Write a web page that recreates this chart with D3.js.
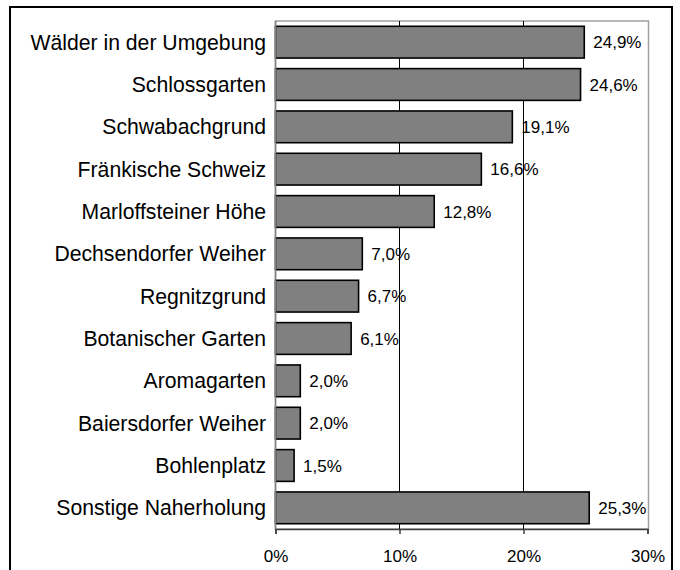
<!DOCTYPE html>
<html>
<head>
<meta charset="utf-8">
<script src="https://cdn.jsdelivr.net/npm/d3@7/dist/d3.min.js"></script>
<style>
  html, body { margin: 0; padding: 0; background: #fff; }
  svg { display: block; }
  text { font-family: "Liberation Sans", Arial, sans-serif; fill: #000; }
</style>
</head>
<body>
<svg id="chart" width="680" height="570"></svg>
<script>
const categories = [
  "Wälder in der Umgebung",
  "Schlossgarten",
  "Schwabachgrund",
  "Fränkische Schweiz",
  "Marloffsteiner Höhe",
  "Dechsendorfer Weiher",
  "Regnitzgrund",
  "Botanischer Garten",
  "Aromagarten",
  "Baiersdorfer Weiher",
  "Bohlenplatz",
  "Sonstige Naherholung"
];
const values = [24.9, 24.6, 19.1, 16.6, 12.8, 7.0, 6.7, 6.1, 2.0, 2.0, 1.5, 25.3];
const valueLabels = ["24,9%", "24,6%", "19,1%", "16,6%", "12,8%", "7,0%", "6,7%", "6,1%", "2,0%", "2,0%", "1,5%", "25,3%"];
const xTicks = [0, 10, 20, 30];
const xTickLabels = ["0%", "10%", "20%", "30%"];

const svg = d3.select("#chart");
const plot = { left: 275.5, right: 647.5, top: 21, bottom: 529 };

const x = d3.scaleLinear().domain([0, 30]).range([plot.left, plot.right]);
const y = d3.scaleBand().domain(categories).range([plot.top, plot.bottom])
  .paddingInner(0.25).paddingOuter(0.125);

// outer frame
svg.append("rect")
  .attr("x", 10).attr("y", 7).attr("width", 662).attr("height", 600)
  .attr("fill", "none").attr("stroke", "#000").attr("stroke-width", 2);

// plot border (top/right grey)
svg.append("rect")
  .attr("x", plot.left).attr("y", plot.top)
  .attr("width", x(30) - plot.left + 1).attr("height", plot.bottom - plot.top)
  .attr("fill", "none").attr("stroke", "#a0a0a0").attr("stroke-width", 1.5);

// gridlines
svg.append("g").selectAll("line").data(xTicks.filter(d => d > 0 && d < 30)).join("line")
  .attr("x1", d => x(d)).attr("x2", d => x(d))
  .attr("y1", plot.top).attr("y2", plot.bottom)
  .attr("stroke", "#000").attr("stroke-width", 1);

// bars
svg.append("g").selectAll("rect").data(values).join("rect")
  .attr("x", x(0))
  .attr("y", (d, i) => y(categories[i]))
  .attr("width", d => x(d) - x(0))
  .attr("height", y.bandwidth())
  .attr("fill", "#808080")
  .attr("stroke", "#000")
  .attr("stroke-width", 1.6);

// value labels
svg.append("g").selectAll("text").data(values).join("text")
  .attr("x", d => x(d) + 9)
  .attr("y", (d, i) => y(categories[i]) + y.bandwidth() / 2)
  .attr("dy", "0.36em")
  .attr("font-size", "17px")
  .text((d, i) => valueLabels[i]);

// category labels
svg.append("g").selectAll("text").data(categories).join("text")
  .attr("x", 266)
  .attr("y", d => y(d) + y.bandwidth() / 2)
  .attr("dy", "0.36em")
  .attr("text-anchor", "end")
  .attr("font-size", "21.2px")
  .text(d => d);

// left axis line
svg.append("line")
  .attr("x1", plot.left).attr("x2", plot.left)
  .attr("y1", plot.top).attr("y2", plot.bottom)
  .attr("stroke", "#808080").attr("stroke-width", 1.5);

// bottom axis
const xAxis = d3.axisBottom(x).tickValues(xTicks)
  .tickFormat((d, i) => xTickLabels[i]).tickSize(5).tickPadding(16);
const gx = svg.append("g").attr("transform", `translate(0,${plot.bottom})`).call(xAxis);
gx.select(".domain").attr("stroke", "#404040").attr("stroke-width", 1.5);
gx.selectAll(".tick line").attr("stroke", "#404040").attr("stroke-width", 1.5);
gx.selectAll(".tick text")
  .attr("font-size", "17px")
  .attr("font-family", "Liberation Sans, Arial, sans-serif")
  .attr("fill", "#000");
</script>
</body>
</html>
